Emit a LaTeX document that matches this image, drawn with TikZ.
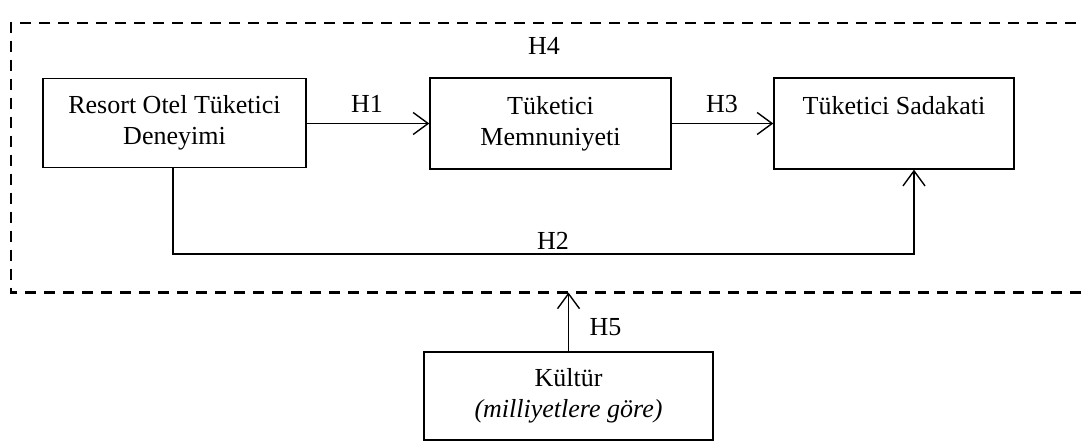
\documentclass[tikz,border=0pt]{standalone}
\usepackage{fontspec}
\setmainfont{Liberation Serif}
\usetikzlibrary{arrows.meta}
\begin{document}
\begin{tikzpicture}[x=1pt,y=-1pt,
  box/.style={draw, line width=1.4pt, align=center, inner sep=0pt,
    font=\fontsize{26}{31}\selectfont},
  hyp/.style={anchor=base, inner sep=0pt, font=\fontsize{26}{31}\selectfont},
  arr/.style={line width=1.4pt, -{Straight Barb[length=15pt,width=22pt,line width=1.4pt]}},
  frame/.style={line width=2.2pt, dash pattern=on 11pt off 8pt}]
  \useasboundingbox (0,0) rectangle (1081,441);
  \clip (0,0) rectangle (1081,441);

  % outer moderating frame (runs off to the right)
  \coordinate (fTR) at (1095,22.7);
  \coordinate (fTL) at (11,22.7);
  \coordinate (fBL) at (11,292.5);
  \coordinate (fBR) at (1095,292.5);
  \draw[frame] (fTR) -- (fTL) -- (fBL) -- (fBR);

  % construct boxes
  \node[box, minimum width=263pt, minimum height=89pt] (exp) at (174.5,123)
    {Resort Otel Tüketici\\Deneyimi};
  \node[box, minimum width=241pt, minimum height=91pt] (sat) at (550.5,123.5)
    {Tüketici\\Memnuniyeti};
  \node[box, minimum width=240pt, minimum height=91pt] (loy) at (894,123.5)
    {Tüketici Sadakati\\\phantom{Deneyimi}};
  \node[box, minimum width=289pt, minimum height=88pt] (cul) at (568.5,396)
    {Kültür\\\textit{(milliyetlere göre)}};

  % hypothesised paths
  \draw[arr] (exp.east |- sat.west) -- (sat.west);
  \draw[arr] (sat.east) -- (sat.east -| loy.west);
  \coordinate (h2) at (914,254);
  \draw[arr] (exp.south -| 173,0) |- (h2) -- (h2 |- loy.south);
  \draw[arr] (cul.north) -- (cul.north |- fBL);

  % hypothesis labels
  \node[hyp] (l1) at (367,113) {H1};
  \node[hyp] (l3) at (722,113) {H3};
  \node[hyp] (l4) at (544,55) {H4};
  \node[hyp] (l2) at (553,249) {H2};
  \node[hyp] (l5) at (605.5,335) {H5};
\end{tikzpicture}
\end{document}
